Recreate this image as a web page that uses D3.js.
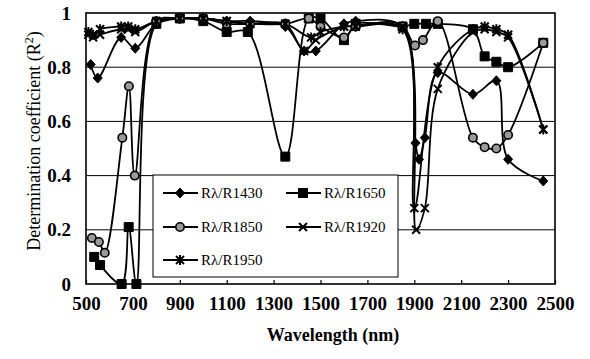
<!DOCTYPE html>
<html>
<head>
<meta charset="utf-8">
<script src="https://cdn.jsdelivr.net/npm/d3@7"></script>
<style>
    body { margin: 0; background: #fff; }
    svg { display: block; }
    text { font-family: "Liberation Serif", "Times New Roman", serif; fill: #000; }
</style>
</head>
<body>
<div id="chart"></div>
<script>
// wavelengths (nm) and R^2 values, one pair per ratio
const r1430Wl  = [520, 550, 650, 710, 800, 900, 1000, 1100, 1200, 1350, 1430, 1480, 1600, 1650, 1850, 1905, 1920, 1945, 2000, 2150, 2250, 2300, 2450];
const r1430Val = [0.81, 0.76, 0.91, 0.87, 0.96, 0.98, 0.98, 0.97, 0.97, 0.95, 0.86, 0.86, 0.96, 0.97, 0.95, 0.52, 0.46, 0.54, 0.78, 0.70, 0.75, 0.46, 0.38];

const r1650Wl  = [535, 560, 652, 682, 715, 800, 900, 1000, 1100, 1190, 1350, 1450, 1500, 1600, 1650, 1850, 1900, 1950, 2000, 2150, 2200, 2250, 2300, 2450];
const r1650Val = [0.10, 0.07, 0.0, 0.21, 0.0, 0.96, 0.98, 0.97, 0.93, 0.93, 0.47, 0.98, 0.98, 0.90, 0.96, 0.95, 0.96, 0.96, 0.96, 0.94, 0.84, 0.82, 0.80, 0.89];

const r1850Wl  = [525, 555, 580, 655, 683, 708, 800, 900, 1000, 1100, 1200, 1350, 1450, 1500, 1600, 1650, 1850, 1903, 1937, 2000, 2150, 2200, 2250, 2300, 2450];
const r1850Val = [0.17, 0.155, 0.115, 0.54, 0.73, 0.40, 0.97, 0.98, 0.98, 0.96, 0.96, 0.96, 0.98, 0.95, 0.91, 0.95, 0.95, 0.88, 0.90, 0.97, 0.54, 0.505, 0.50, 0.55, 0.89];

const r1920Wl  = [510, 530, 560, 650, 680, 710, 800, 900, 1000, 1100, 1200, 1350, 1430, 1480, 1600, 1650, 1850, 1908, 1945, 2000, 2150, 2200, 2250, 2300, 2450];
const r1920Val = [0.92, 0.91, 0.92, 0.94, 0.94, 0.93, 0.97, 0.98, 0.98, 0.97, 0.96, 0.96, 0.86, 0.90, 0.95, 0.95, 0.95, 0.20, 0.28, 0.72, 0.93, 0.94, 0.93, 0.91, 0.57];

const r1950Wl  = [510, 530, 560, 650, 680, 710, 800, 900, 1000, 1100, 1200, 1350, 1460, 1500, 1600, 1650, 1850, 1900, 2000, 2150, 2200, 2250, 2300, 2450];
const r1950Val = [0.93, 0.92, 0.94, 0.95, 0.95, 0.94, 0.97, 0.98, 0.98, 0.97, 0.96, 0.96, 0.91, 0.93, 0.95, 0.95, 0.94, 0.28, 0.80, 0.94, 0.95, 0.94, 0.92, 0.57];

const seriesNames = ["Rλ/R1430", "Rλ/R1650", "Rλ/R1850", "Rλ/R1920", "Rλ/R1950"];
const xTicks = [500, 700, 900, 1100, 1300, 1500, 1700, 1900, 2100, 2300, 2500];
const yTicks = [0, 0.2, 0.4, 0.6, 0.8, 1];

const CHART = {
    width: 590,
    height: 359,
    plot: {left: 86, right: 555, top: 13, bottom: 284},
    lineWidth: 1.8,
    tickFont: "19px",

    //marker path builders, centred on 0,0
    markers: {
        diamond: "M0,-5L4.5,0L0,5L-4.5,0Z",
        square: "M-4.5,-4.5H4.5V4.5H-4.5Z",
        cross: "M-4,-4L4,4M4,-4L-4,4",
        asterisk: "M-4,-4L4,4M4,-4L-4,4M0,-5V5"
    },

    drawMarker: function(g, type, cx, cy){
        if(type === "circle"){
            g.append("circle")
                .attr("cx", cx).attr("cy", cy).attr("r", 4.2)
                .attr("fill", "#9a9a9a")
                .attr("stroke", "#000")
                .attr("stroke-width", 1.6);
            return;
        }
        const filled = (type === "diamond" || type === "square");
        g.append("path")
            .attr("d", CHART.markers[type])
            .attr("transform", `translate(${cx},${cy})`)
            .attr("fill", filled ? "#000" : "none")
            .attr("stroke", "#000")
            .attr("stroke-width", filled ? 1 : 2);
    }
};

const seriesList = [
    {name: seriesNames[0], wl: r1430Wl, val: r1430Val, marker: "diamond"},
    {name: seriesNames[1], wl: r1650Wl, val: r1650Val, marker: "square"},
    {name: seriesNames[2], wl: r1850Wl, val: r1850Val, marker: "circle"},
    {name: seriesNames[3], wl: r1920Wl, val: r1920Val, marker: "cross"},
    {name: seriesNames[4], wl: r1950Wl, val: r1950Val, marker: "asterisk"}
];

const p = CHART.plot;
const x = d3.scaleLinear().domain([500, 2500]).range([p.left, p.right]);
const y = d3.scaleLinear().domain([0, 1]).range([p.bottom, p.top]);

const svg = d3.select("#chart")
    .append("svg")
    .attr("width", CHART.width)
    .attr("height", CHART.height);

svg.append("defs").append("clipPath")
    .attr("id", "plotClip")
    .append("rect")
    .attr("x", p.left).attr("y", p.top)
    .attr("width", p.right - p.left).attr("height", p.bottom - p.top);

//horizontal gridlines
svg.append("g")
    .selectAll("line")
    .data(yTicks.filter(d => d > 0 && d < 1))
    .join("line")
    .attr("x1", p.left).attr("x2", p.right)
    .attr("y1", d => y(d)).attr("y2", d => y(d))
    .attr("stroke", "#000")
    .attr("stroke-width", 1);

//x axis with small inward ticks
const xAxis = svg.append("g")
    .attr("transform", `translate(0,${p.bottom})`)
    .call(d3.axisBottom(x).tickValues(xTicks).tickSizeInner(-4).tickSizeOuter(0).tickPadding(13).tickFormat(d3.format("d")));
xAxis.select(".domain").remove();
xAxis.selectAll("line").attr("stroke", "#000").attr("stroke-width", 1.2);
xAxis.selectAll("text")
    .style("font-family", "'Liberation Serif', serif")
    .style("font-size", CHART.tickFont)
    .style("font-weight", "bold");

//y axis labels only
const yAxis = svg.append("g")
    .attr("transform", `translate(${p.left},0)`)
    .call(d3.axisLeft(y).tickValues(yTicks).tickSize(0).tickPadding(15).tickFormat(d => String(d)));
yAxis.select(".domain").remove();
yAxis.selectAll("text")
    .style("font-family", "'Liberation Serif', serif")
    .style("font-size", CHART.tickFont)
    .style("font-weight", "bold");

//series lines (Excel style smoothed) and markers
const line = d3.line()
    .x(d => x(d[0]))
    .y(d => y(d[1]))
    .curve(d3.curveCatmullRom.alpha(0.5));

const plotG = svg.append("g").attr("clip-path", "url(#plotClip)");
seriesList.forEach(s => {
    const pts = s.wl.map((w, i) => [w, s.val[i]]);
    plotG.append("path")
        .attr("d", line(pts))
        .attr("fill", "none")
        .attr("stroke", "#000")
        .attr("stroke-width", CHART.lineWidth);
});
seriesList.forEach(s => {
    const g = svg.append("g");
    s.wl.forEach((w, i) => CHART.drawMarker(g, s.marker, x(w), y(s.val[i])));
});

//legend box
const lg = svg.append("g");
lg.append("rect")
    .attr("x", 153).attr("y", 175)
    .attr("width", 245).attr("height", 102)
    .attr("fill", "#fff")
    .attr("stroke", "#000")
    .attr("stroke-width", 1);

const legendPos = [[163, 193], [286, 193], [163, 227], [286, 227], [163, 260]];
seriesList.forEach((s, i) => {
    const [lx, ly] = legendPos[i];
    lg.append("line")
        .attr("x1", lx).attr("x2", lx + 35)
        .attr("y1", ly).attr("y2", ly)
        .attr("stroke", "#000")
        .attr("stroke-width", CHART.lineWidth);
    CHART.drawMarker(lg, s.marker, lx + 17, ly);
    lg.append("text")
        .attr("x", lx + 38)
        .attr("y", ly + 5)
        .style("font-size", "15px")
        .text(s.name);
});

//plot frame
svg.append("rect")
    .attr("x", p.left).attr("y", p.top)
    .attr("width", p.right - p.left).attr("height", p.bottom - p.top)
    .attr("fill", "none")
    .attr("stroke", "#000")
    .attr("stroke-width", 1.6);

//axis titles
svg.append("text")
    .attr("x", 333).attr("y", 341)
    .attr("text-anchor", "middle")
    .style("font-size", "18px")
    .style("font-weight", "bold")
    .text("Wavelength (nm)");

const yTitle = svg.append("text")
    .attr("transform", "translate(40,141) rotate(-90)")
    .attr("text-anchor", "middle")
    .style("font-size", "18px");
yTitle.append("tspan").text("Determination coefficient (R");
yTitle.append("tspan").attr("dy", -7).style("font-size", "12px").text("2");
yTitle.append("tspan").attr("dy", 7).text(")");
</script>
</body>
</html>
